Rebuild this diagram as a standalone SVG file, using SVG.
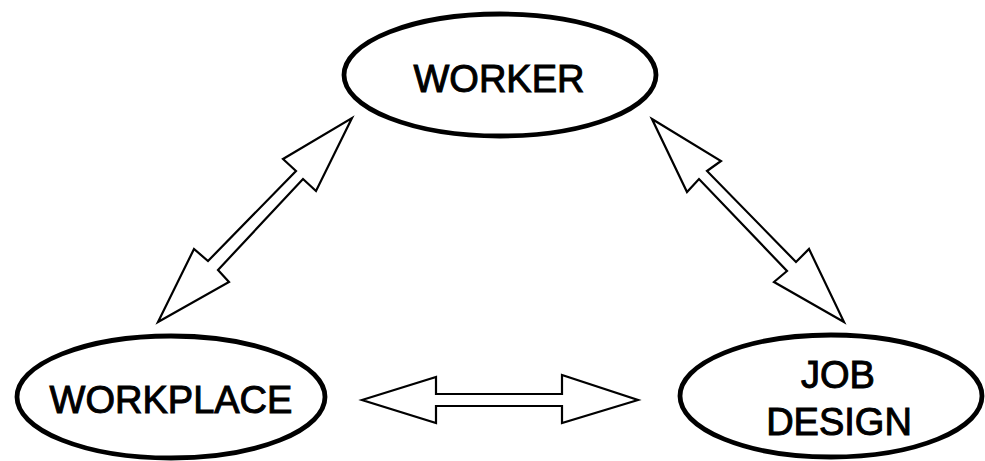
<svg xmlns="http://www.w3.org/2000/svg" width="985" height="461" viewBox="0 0 985 461">
<style>
.node ellipse{fill:#fff;stroke:#000;stroke-width:4.8}
.lbl{font-family:"Liberation Sans",Arial,sans-serif;font-size:38px;fill:#000;stroke:#000;stroke-width:1;text-anchor:middle}
.conn polygon{fill:#fff;stroke:#000;stroke-width:2.2;stroke-linejoin:miter}
</style>
<rect width="985" height="461" fill="#fff"/>
<g id="connectors" class="conn">
<polygon points="352,118 316,191 303,179 218,270 229,282 158,322 194,249 208,261 296,171 283,159"/>
<polygon points="652,119 721,161 707,171 796,262 809,249 844,322 774,282 787,271 699,179 687,192"/>
<polygon points="362,400 436,377 436,394 562,394 562,375 638,400 562,423 562,406 436,406 436,423"/>
</g>
<g id="worker" class="node">
<ellipse cx="500" cy="75" rx="156" ry="61"/>
<text class="lbl" x="499" y="92">WORKER</text>
</g>
<g id="workplace" class="node">
<ellipse cx="171" cy="397" rx="154" ry="61"/>
<text class="lbl" x="171" y="413">WORKPLACE</text>
</g>
<g id="jobdesign" class="node">
<ellipse cx="831" cy="396" rx="151" ry="61"/>
<text class="lbl" x="838" y="388">JOB</text>
<text class="lbl" x="839" y="435">DESIGN</text>
</g>
</svg>
